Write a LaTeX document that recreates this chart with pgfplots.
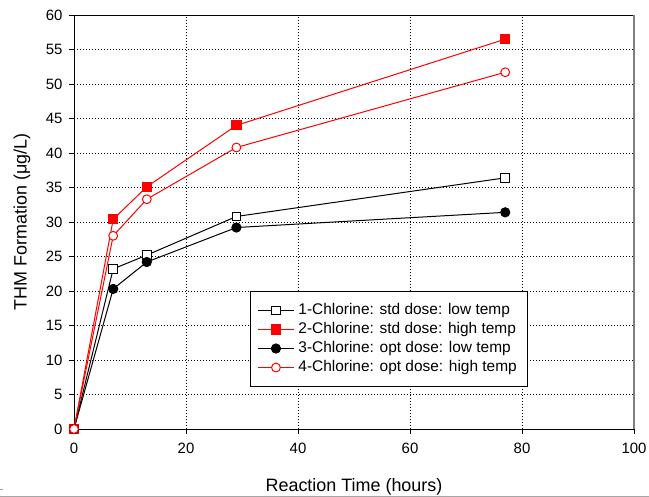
\documentclass[border=0pt]{standalone}
\usepackage{fontspec}
\setmainfont{Liberation Sans}
\usepackage{pgfplots}
\pgfplotsset{compat=1.18}
\begin{document}
\begin{tikzpicture}[x=1bp,y=1bp]
\path[use as bounding box] (-74,-68) rectangle (575,429);
\draw[gray!70, line width=0.8bp] (-74,-67.4) -- (575,-67.4);
\draw[gray!70, line width=0.8bp] (-74,-60) -- (-71,-60);
\begin{axis}[at={(0,0)}, anchor=south west, width=560bp, height=414bp, scale only axis,
  xmin=0, xmax=100, ymin=0, ymax=60,
  xtick={0,20,...,100}, ytick={0,5,...,60},
  tick align=outside, tick pos=left, major tick length=5bp,
  tick style={black, line width=0.8bp},
  grid=major, grid style={black, line width=0.9bp, dash pattern=on 0.9bp off 2.1bp},
  axis line style={black, line width=0.8bp},
  ticklabel style={font=\fontsize{15}{17}\selectfont},
  xticklabel style={yshift=-6bp},
  yticklabel style={xshift=-3bp},
  /pgf/number format/assume math mode=true,
  xlabel={Reaction Time (hours)}, ylabel={THM Formation (μg/L)},
  label style={font=\fontsize{18}{20}\selectfont},
  xlabel style={at={(axis description cs:0.5,-0.14)}, anchor=center},
  ylabel style={at={(axis description cs:-0.093,0.5)}, anchor=center},
  clip=false,
  legend style={at={(0.811,0.101)}, anchor=south east, draw=black, line width=0.8bp,
    font=\fontsize{15.5}{19}\selectfont, inner xsep=7bp, inner ysep=11bp,
    row sep=2.5bp, cells={anchor=west},
    nodes={inner xsep=4bp, inner ysep=1bp, text height=11bp, text depth=3.5bp}},
  legend image code/.code={\draw[mark repeat=2,mark phase=2] plot coordinates {(0bp,0bp) (18bp,0bp) (36bp,0bp)};},
  every axis plot/.append style={line width=1bp},
]
\addplot[black, mark=square*, mark size=4.4bp, mark options={fill=white, draw=black, line width=1bp}]
  coordinates {(0,0) (7,23.2) (13,25.2) (29,30.8) (77,36.4)};
\addlegendentry{1-Chlorine: std dose: low temp}
\addplot[red, mark=square*, mark size=4.6bp, mark options={fill=red, draw=red}]
  coordinates {(0,0) (7,30.4) (13,35.1) (29,44.0) (77,56.5)};
\addlegendentry{2-Chlorine: std dose: high temp}
\addplot[black, mark=*, mark size=4.6bp, mark options={fill=black, draw=black}]
  coordinates {(0,0) (7,20.3) (13,24.2) (29,29.2) (77,31.4)};
\addlegendentry{3-Chlorine: opt dose: low temp}
\addplot[red, mark=*, mark size=4.4bp, mark options={fill=white, draw=red, line width=1bp}]
  coordinates {(0,0) (7,28.0) (13,33.3) (29,40.8) (77,51.7)};
\addlegendentry{4-Chlorine: opt dose: high temp}
\draw[gray, line width=1.5bp] (rel axis cs:1,0) -- (rel axis cs:1,1);
\end{axis}
\end{tikzpicture}
\end{document}
